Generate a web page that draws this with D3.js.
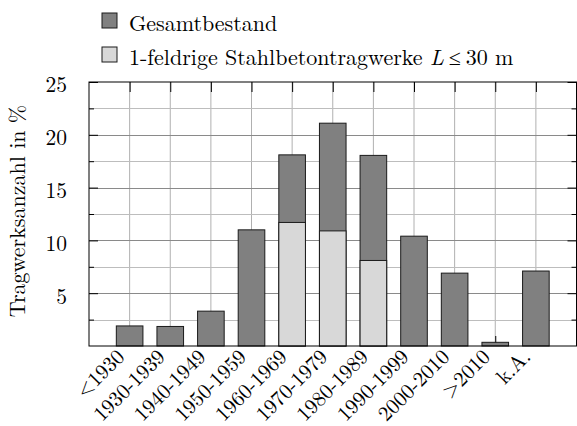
<!DOCTYPE html>
<html>
<head>
<meta charset="utf-8">
<script src="https://cdn.jsdelivr.net/npm/d3@7"></script>
<style>
  html, body { margin: 0; padding: 0; background: #fff; }
  svg { display: block; }
</style>
</head>
<body>
<svg id="chart" width="577" height="426"></svg>
<script>
// Baujahr-Klassen
const categories = ["<1930", "1930-1939", "1940-1949", "1950-1959", "1960-1969",
  "1970-1979", "1980-1989", "1990-1999", "2000-2010", ">2010", "k.A."];
// Anteil am Gesamtbestand in %
const gesamtbestand = [1.9, 1.85, 3.3, 11.0, 18.1, 21.1, 18.05, 10.4, 6.9, 0.35, 7.1];
// Anteil 1-feldriger Stahlbetontragwerke (L <= 30 m) in %
const stahlbeton = [null, null, null, null, 11.7, 10.9, 8.1, null, null, null, null];
const yTicks = [5, 10, 15, 20, 25];
const yMinorTicks = [2.5, 7.5, 12.5, 17.5, 22.5];
const seriesNames = ["Gesamtbestand", "1-feldrige Stahlbetontragwerke"];

const FONT = '"Latin Modern Roman", "CMU Serif", "Liberation Serif", serif';
const colors = { total: "#808080", sub: "#d8d8d8" };
const svg = d3.select("#chart");

const plotL = 89, plotR = 576.5, plotT = 82, plotB = 346;
const x = d3.scaleLinear().domain([0, categories.length + 1]).range([plotL, plotR]);
const y = d3.scaleLinear().domain([0, 25]).range([plotB, plotT]);
const barW = (x(1) - x(0)) * 0.655;

// grid
const grid = svg.append("g");
grid.selectAll("line.v").data(categories).join("line")
  .attr("x1", (d, i) => x(i + 1)).attr("x2", (d, i) => x(i + 1))
  .attr("y1", plotT).attr("y2", plotB)
  .attr("stroke", "#b0b0b0").attr("stroke-width", 1);
grid.selectAll("line.hmin").data(yMinorTicks).join("line")
  .attr("x1", plotL).attr("x2", plotR)
  .attr("y1", d => Math.round(y(d)) + 0.5).attr("y2", d => Math.round(y(d)) + 0.5)
  .attr("stroke", "#bdbdbd").attr("stroke-width", 1);
grid.selectAll("line.hmaj").data(yTicks.filter(v => v < 25)).join("line")
  .attr("x1", plotL).attr("x2", plotR)
  .attr("y1", d => Math.round(y(d)) + 0.5).attr("y2", d => Math.round(y(d)) + 0.5)
  .attr("stroke", "#8a8a8a").attr("stroke-width", 1);

// inward ticks on all four sides
const idx = categories.map((d, i) => i + 1);
const tickStyle = g => {
  g.select(".domain").remove();
  g.selectAll(".tick line").attr("stroke", "#000").attr("stroke-width", 1);
};
svg.append("g").attr("transform", `translate(0,${plotT})`)
  .call(d3.axisTop(x).tickValues(idx).tickSizeInner(-10).tickSizeOuter(0).tickFormat(""))
  .call(tickStyle);
svg.append("g").attr("transform", `translate(0,${plotB})`)
  .call(d3.axisBottom(x).tickValues(idx).tickSizeInner(-10).tickSizeOuter(0).tickFormat(""))
  .call(tickStyle);
svg.append("g").attr("transform", `translate(${plotL},0)`)
  .call(d3.axisLeft(y).tickValues(yMinorTicks).tickSizeInner(-5).tickSizeOuter(0).tickFormat(""))
  .call(tickStyle);
svg.append("g").attr("transform", `translate(${plotR},0)`)
  .call(d3.axisRight(y).tickValues(yMinorTicks).tickSizeInner(-5).tickSizeOuter(0).tickFormat(""))
  .call(tickStyle);
svg.append("g").attr("transform", `translate(${plotR},0)`)
  .call(d3.axisRight(y).tickValues(yTicks).tickSizeInner(-9).tickSizeOuter(0).tickFormat(""))
  .call(tickStyle);
const yAxis = svg.append("g").attr("transform", `translate(${plotL},0)`)
  .call(d3.axisLeft(y).tickValues(yTicks).tickSizeInner(-9).tickSizeOuter(0).tickPadding(22))
  .call(tickStyle);
yAxis.selectAll(".tick text")
  .style("font-family", FONT).style("font-size", "21.5px").attr("fill", "#000")
  .attr("dy", "0.46em");

// bars: total stock, then the single-span subset drawn over it
svg.append("g").selectAll("rect").data(gesamtbestand).join("rect")
  .attr("x", (d, i) => x(i + 1) - barW / 2)
  .attr("width", barW)
  .attr("y", d => y(d))
  .attr("height", d => y(0) - y(d))
  .attr("fill", colors.total).attr("stroke", "#1a1a1a").attr("stroke-width", 1);
svg.append("g").selectAll("rect").data(stahlbeton.map((v, i) => ({ v, i })).filter(d => d.v != null)).join("rect")
  .attr("x", d => x(d.i + 1) - barW / 2)
  .attr("width", barW)
  .attr("y", d => y(d.v))
  .attr("height", d => y(0) - y(d.v))
  .attr("fill", colors.sub).attr("stroke", "#1a1a1a").attr("stroke-width", 1);

// frame
svg.append("rect").attr("x", plotL).attr("y", plotT)
  .attr("width", plotR - plotL).attr("height", plotB - plotT)
  .attr("fill", "none").attr("stroke", "#000").attr("stroke-width", 1);

// category labels, rotated
svg.append("g").selectAll("text").data(categories).join("text")
  .attr("transform", (d, i) => `translate(${x(i + 1) - 4},${plotB + 12}) rotate(-45)`)
  .attr("text-anchor", "end")
  .style("font-family", FONT).style("font-size", "21px")
  .text(d => d);

// y axis title
svg.append("text")
  .attr("transform", `translate(25,211) rotate(-90)`)
  .attr("text-anchor", "middle")
  .style("font-family", FONT).style("font-size", "22px")
  .text("Tragwerksanzahl in %");

// legend
const legend = svg.append("g");
const legendRows = [
  { fill: colors.total, y: 13 },
  { fill: colors.sub, y: 47 }
];
legend.selectAll("rect").data(legendRows).join("rect")
  .attr("x", 102).attr("y", d => d.y).attr("width", 15).attr("height", 15)
  .attr("fill", d => d.fill).attr("stroke", "#1a1a1a").attr("stroke-width", 1);
legend.append("text").attr("x", 129).attr("y", 30.5)
  .style("font-family", FONT).style("font-size", "22px").text(seriesNames[0]);
const t2 = legend.append("text").attr("x", 129).attr("y", 64.5)
  .style("font-family", FONT).style("font-size", "22px")
  .style("white-space", "pre");
t2.append("tspan").text(seriesNames[1] + " ");
t2.append("tspan").style("font-style", "italic").text("L");
t2.append("tspan").attr("dx", 5).text("\u2264");
t2.append("tspan").attr("dx", 5).text("30 m");
</script>
</body>
</html>
